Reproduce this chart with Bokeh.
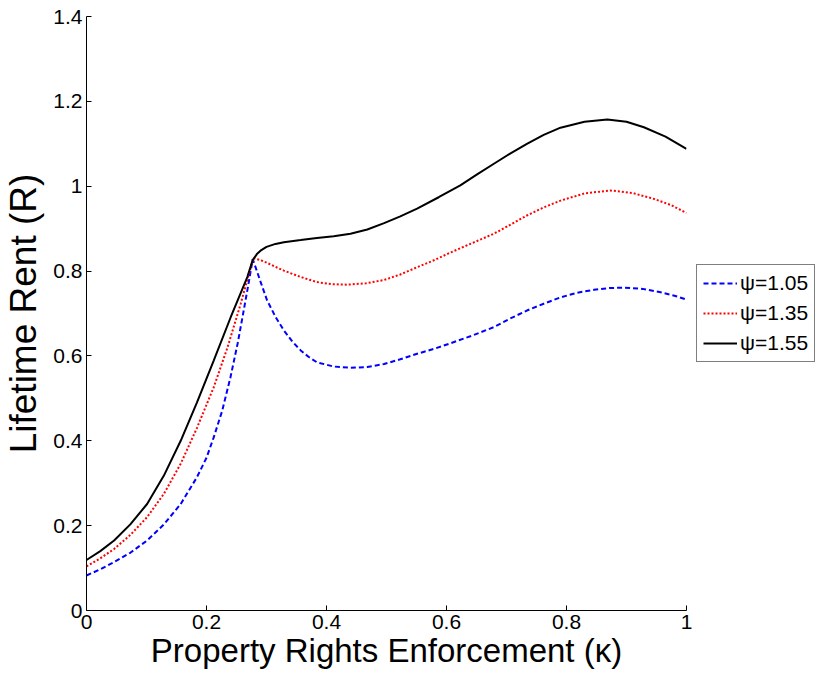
from bokeh.plotting import figure
from bokeh.models import Range1d, FixedTicker, CustomJSTickFormatter, Legend, LegendItem
from bokeh.embed import file_html
from bokeh.resources import INLINE

# psi = 1.05 (blue dashed)
x_105 = [0, 0.023, 0.046, 0.073, 0.101, 0.129, 0.157, 0.184, 0.2, 0.212, 0.226, 0.24, 0.252,
         0.262, 0.27, 0.277, 0.284, 0.29, 0.301, 0.315, 0.329, 0.343, 0.357, 0.37, 0.384,
         0.412, 0.44, 0.468, 0.496, 0.523, 0.551, 0.58, 0.607, 0.643, 0.679, 0.706, 0.734,
         0.762, 0.79, 0.818, 0.846, 0.871, 0.896, 0.927, 0.957, 0.98, 1.0]
y_105 = [0.0825, 0.097, 0.114, 0.136, 0.165, 0.203, 0.251, 0.314, 0.36, 0.408, 0.47, 0.55, 0.63,
         0.707, 0.77, 0.828, 0.80, 0.775, 0.731, 0.692, 0.66, 0.634, 0.613, 0.598, 0.585,
         0.575, 0.572, 0.574, 0.581, 0.592, 0.605, 0.617, 0.63, 0.648, 0.668, 0.688, 0.707,
         0.723, 0.738, 0.749, 0.756, 0.760, 0.761, 0.758, 0.75, 0.742, 0.733]

# psi = 1.35 (red dotted)
x_135 = [0, 0.023, 0.046, 0.073, 0.101, 0.129, 0.157, 0.184, 0.212, 0.235, 0.257, 0.278,
         0.29, 0.30, 0.315, 0.329, 0.357, 0.384, 0.41, 0.434, 0.465, 0.496, 0.523, 0.551,
         0.58, 0.607, 0.643, 0.679, 0.706, 0.734, 0.762, 0.79, 0.83, 0.873, 0.91, 0.946,
         0.975, 1.0]
y_135 = [0.104, 0.123, 0.145, 0.178, 0.22, 0.275, 0.346, 0.43, 0.526, 0.62, 0.723, 0.83,
         0.826, 0.82, 0.81, 0.801, 0.786, 0.774, 0.769, 0.768, 0.771, 0.779, 0.792, 0.809,
         0.826, 0.844, 0.866, 0.888, 0.909, 0.931, 0.95, 0.966, 0.983, 0.99, 0.984, 0.97,
         0.955, 0.937]

# psi = 1.55 (black solid)
x_155 = [0, 0.023, 0.046, 0.073, 0.101, 0.129, 0.157, 0.184, 0.212, 0.24, 0.268, 0.277,
         0.284, 0.29, 0.30, 0.315, 0.329, 0.357, 0.384, 0.412, 0.44, 0.468, 0.496, 0.523,
         0.551, 0.587, 0.623, 0.651, 0.679, 0.706, 0.734, 0.762, 0.79, 0.83, 0.868, 0.9,
         0.929, 0.965, 1.0]
y_155 = [0.119, 0.14, 0.165, 0.203, 0.251, 0.318, 0.40, 0.49, 0.589, 0.69, 0.786, 0.826,
         0.840, 0.848, 0.857, 0.864, 0.868, 0.873, 0.878, 0.882, 0.888, 0.898, 0.913, 0.929,
         0.947, 0.974, 1.002, 1.028, 1.053, 1.077, 1.1, 1.121, 1.138, 1.152, 1.157, 1.152,
         1.139, 1.117, 1.088]

x_ticks = [0, 0.2, 0.4, 0.6, 0.8, 1.0]
y_ticks = [0, 0.2, 0.4, 0.6, 0.8, 1.0, 1.2, 1.4]
series_labels = ["\u03c8=1.05", "\u03c8=1.35", "\u03c8=1.55"]
x_label = "Property Rights Enforcement (\u03ba)"
y_label = "Lifetime Rent (R)"

FONT = "Liberation Sans"

p = figure(frame_width=600, frame_height=594, output_backend="svg", toolbar_location=None,
           x_range=Range1d(0, 1), y_range=Range1d(0, 1.4),
           min_border_left=86, min_border_right=137, min_border_top=16, min_border_bottom=67)
p.outline_line_color = None
p.xgrid.visible = False
p.ygrid.visible = False

fmt = CustomJSTickFormatter(code="return String(Math.round(tick*10)/10);")
for ax, ticks in ((p.xaxis[0], x_ticks), (p.yaxis[0], y_ticks)):
    ax.ticker = FixedTicker(ticks=ticks, minor_ticks=[])
    ax.formatter = fmt
    ax.major_tick_in = 5
    ax.major_tick_out = 0
    ax.minor_tick_in = 0
    ax.minor_tick_out = 0
    ax.axis_line_color = "black"
    ax.major_tick_line_color = "black"
    ax.major_label_text_font = FONT
    ax.major_label_text_font_size = "21px"
    ax.major_label_text_color = "black"
    ax.axis_label_text_font = FONT
    ax.axis_label_text_font_style = "normal"
    ax.axis_label_text_color = "black"

p.xaxis[0].axis_label = x_label
p.xaxis[0].axis_label_text_font_size = "33px"
p.xaxis[0].major_label_standoff = 4
p.xaxis[0].axis_label_standoff = 0
p.yaxis[0].axis_label = y_label
p.yaxis[0].axis_label_text_font_size = "37px"
p.yaxis[0].major_label_standoff = 4
p.yaxis[0].axis_label_standoff = 6

r1 = p.line(x_105, y_105, line_color="#0000ff", line_width=2, line_dash="5 3")
r2 = p.line(x_135, y_135, line_color="#ff0000", line_width=2, line_dash="2 2")
r3 = p.line(x_155, y_155, line_color="black", line_width=2)

legend = Legend(items=[LegendItem(label=series_labels[0], renderers=[r1]),
                       LegendItem(label=series_labels[1], renderers=[r2]),
                       LegendItem(label=series_labels[2], renderers=[r3])],
                location="left")
legend.label_text_font = FONT
legend.label_text_font_size = "21px"
legend.label_text_color = "black"
legend.glyph_width = 34
legend.glyph_height = 22
legend.label_height = 22
legend.label_standoff = 3
legend.spacing = 6
legend.padding = 6
legend.margin = 10
legend.border_line_color = "black"
legend.border_line_width = 1
legend.background_fill_color = "white"
legend.background_fill_alpha = 1
p.add_layout(legend, "right")

open("out.html", "w").write(file_html(p, INLINE))
